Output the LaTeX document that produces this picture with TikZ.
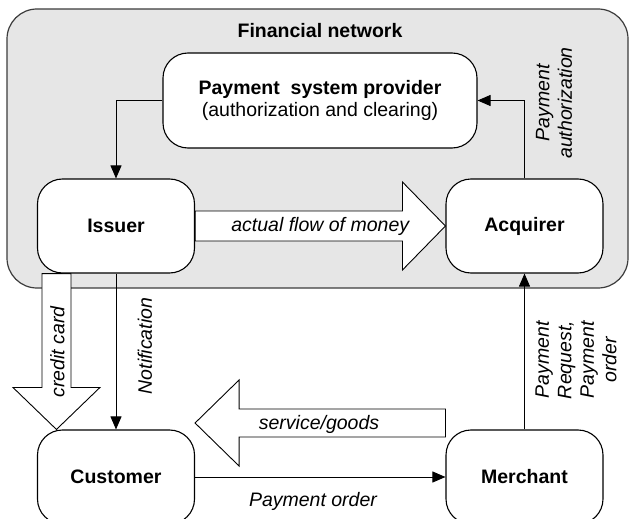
\documentclass[tikz,border=0pt]{standalone}
\usepackage{fontspec}
\setmainfont{Liberation Sans}
\usetikzlibrary{arrows.meta,calc,backgrounds}
\definecolor{netgray}{RGB}{230,230,230}
\definecolor{framegray}{RGB}{60,60,60}

\begin{document}
\begin{tikzpicture}[
  x=1pt, y=-1pt,
  every node/.style={font=\fontsize{19.5}{22.5}\selectfont},
  box/.style={rectangle, draw=black, line width=1.1pt, fill=white, rounded corners=25pt,
              minimum width=157pt, minimum height=94pt,
              font=\fontsize{19.5}{22.5}\selectfont\bfseries},
  conn/.style={-{Triangle[length=13pt,width=11pt]}, line width=0.9pt},
  blockarrow/.style={draw=black, fill=white, line width=0.9pt},
  lbl/.style={font=\fontsize{19.5}{22.5}\selectfont\itshape, inner sep=0pt, align=center},
]
\useasboundingbox (0,0) rectangle (630,519);

% Boxes
\node[box, minimum width=314pt, minimum height=95pt, align=center] (psp) at (320,100.5)
      {Payment\ \ system provider\\{\mdseries (authorization and clearing)}};
\node[box] (issuer)   at (116,226)   {Issuer};
\node[box] (acquirer) at (524.5,226) {Acquirer};
\node[box] (customer) at (116,477)   {Customer};
\node[box] (merchant) at (524.5,477) {Merchant};

% Title of the network
\node[font=\fontsize{19.5}{22.5}\selectfont\bfseries] (nettitle) at (320,31) {Financial network};

% Thin arrows
\draw[conn] (psp.west) -| (issuer.north);
\draw[conn] (acquirer.north) |- (psp.east);
\draw[conn] (issuer.south) -- (customer.north);
\draw[conn] (customer.east) -- (merchant.west);
\draw[conn] (merchant.north) -- (acquirer.south);

% Frame and block arrows behind the boxes
\begin{scope}[on background layer]
\node[rectangle, draw=framegray, fill=netgray, line width=1.2pt, rounded corners=30pt,
      minimum width=621pt, minimum height=279pt] (network) at (317.5,148.5) {};
% actual flow of money
\draw[blockarrow] ($(issuer.east)+(0,-15)$) -- ($(acquirer.west)+(-43,-15)$)
      -- ($(acquirer.west)+(-43,-44)$) -- (acquirer.west) -- ($(acquirer.west)+(-43,44)$)
      -- ($(acquirer.west)+(-43,15)$) -- ($(issuer.east)+(0,15)$) -- cycle;
% credit card
\draw[blockarrow] ($(issuer.south west)+(5,0)$) -- ($(customer.north west)+(5,-42)$)
      -- ($(customer.north west)+(-24,-42)$) -- ($(customer.north west)+(19.5,0)$)
      -- ($(customer.north west)+(63,-42)$) -- ($(customer.north west)+(34,-42)$)
      -- ($(issuer.south west)+(34,0)$) -- cycle;
% service/goods
\draw[blockarrow] ($(merchant.west)+(0,-68)$) -- ($(customer.east)+(44,-68)$)
      -- ($(customer.east)+(44,-97)$) -- ($(customer.east)+(0,-54)$) -- ($(customer.east)+(44,-11)$)
      -- ($(customer.east)+(44,-40)$) -- ($(merchant.west)+(0,-40)$) -- cycle;
\end{scope}

% Labels
\node[lbl] (moneylbl) at ($(issuer.east)!0.5!(acquirer.west)$) {actual flow of money};
\node[lbl] (goodslbl) at (319,424) {service/goods};
\node[lbl] (orderlbl) at (313,501) {Payment order};
\node[lbl, rotate=90] (cardlbl) at (57.5,352) {credit card};
\node[lbl, rotate=90] (notelbl) at (145,346) {Notification};
\node[lbl, rotate=90] (authlbl) at (554,103) {Payment\\authorization};
\node[lbl, rotate=90] (reqlbl) at (576,360) {Payment\\Request,\\Payment\\order};
\end{tikzpicture}
\end{document}
